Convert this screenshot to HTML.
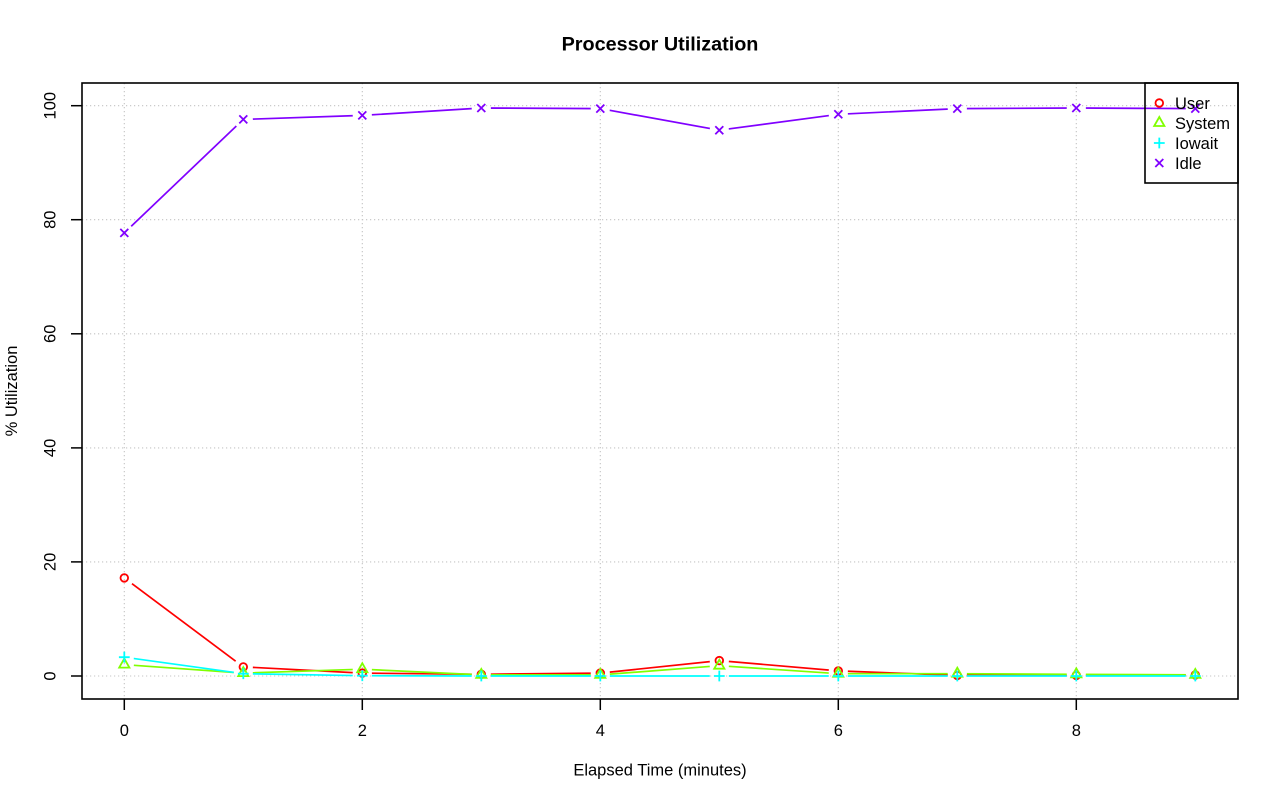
<!DOCTYPE html>
<html><head><meta charset="utf-8"><style>
html,body{margin:0;padding:0;background:#fff;}
svg{display:block;}
text{font-family:"Liberation Sans",Arial,sans-serif;fill:#000;}
</style></head><body>
<svg width="1280" height="801" viewBox="0 0 1280 801" xmlns="http://www.w3.org/2000/svg">
<defs>
<mask id="mU" maskUnits="userSpaceOnUse" x="0" y="0" width="1280" height="801">
<rect x="0" y="0" width="1280" height="801" fill="#fff"/>
<g fill="#000">
<circle cx="124.3" cy="577.9" r="9.6"/><circle cx="243.3" cy="666.9" r="9.6"/><circle cx="362.3" cy="673.1" r="9.6"/><circle cx="481.3" cy="674.3" r="9.6"/><circle cx="600.3" cy="673.1" r="9.6"/><circle cx="719.3" cy="660.6" r="9.6"/><circle cx="838.3" cy="670.9" r="9.6"/><circle cx="957.3" cy="675.4" r="9.6"/><circle cx="1076.3" cy="675.4" r="9.6"/><circle cx="1195.3" cy="674.9" r="9.6"/>
</g></mask>
<mask id="mS" maskUnits="userSpaceOnUse" x="0" y="0" width="1280" height="801">
<rect x="0" y="0" width="1280" height="801" fill="#fff"/>
<g fill="#000">
<circle cx="124.3" cy="664.6" r="9.6"/><circle cx="243.3" cy="673.1" r="9.6"/><circle cx="362.3" cy="669.2" r="9.6"/><circle cx="481.3" cy="674.9" r="9.6"/><circle cx="600.3" cy="674.9" r="9.6"/><circle cx="719.3" cy="665.7" r="9.6"/><circle cx="838.3" cy="673.7" r="9.6"/><circle cx="957.3" cy="673.7" r="9.6"/><circle cx="1076.3" cy="674.3" r="9.6"/><circle cx="1195.3" cy="674.9" r="9.6"/>
</g></mask>
<mask id="mI" maskUnits="userSpaceOnUse" x="0" y="0" width="1280" height="801">
<rect x="0" y="0" width="1280" height="801" fill="#fff"/>
<g fill="#000">
<circle cx="124.3" cy="657.2" r="9.6"/><circle cx="243.3" cy="673.7" r="9.6"/><circle cx="362.3" cy="675.7" r="9.6"/><circle cx="481.3" cy="676" r="9.6"/><circle cx="600.3" cy="676" r="9.6"/><circle cx="719.3" cy="676" r="9.6"/><circle cx="838.3" cy="676" r="9.6"/><circle cx="957.3" cy="676" r="9.6"/><circle cx="1076.3" cy="676" r="9.6"/><circle cx="1195.3" cy="676" r="9.6"/>
</g></mask>
<mask id="mD" maskUnits="userSpaceOnUse" x="0" y="0" width="1280" height="801">
<rect x="0" y="0" width="1280" height="801" fill="#fff"/>
<g fill="#000">
<circle cx="124.3" cy="232.9" r="9.6"/><circle cx="243.3" cy="119.4" r="9.6"/><circle cx="362.3" cy="115.4" r="9.6"/><circle cx="481.3" cy="108.0" r="9.6"/><circle cx="600.3" cy="108.6" r="9.6"/><circle cx="719.3" cy="130.2" r="9.6"/><circle cx="838.3" cy="114.3" r="9.6"/><circle cx="957.3" cy="108.6" r="9.6"/><circle cx="1076.3" cy="108.0" r="9.6"/><circle cx="1195.3" cy="108.6" r="9.6"/>
</g></mask>
</defs>

<!-- title -->
<text x="660" y="50.5" font-size="19.8" font-weight="bold" text-anchor="middle">Processor Utilization</text>

<!-- grid -->
<g stroke="#c4c4c4" stroke-width="1.1" stroke-dasharray="1.2 2.8" fill="none">
<line x1="124.3" y1="83" x2="124.3" y2="699"/>
<line x1="362.3" y1="83" x2="362.3" y2="699"/>
<line x1="600.3" y1="83" x2="600.3" y2="699"/>
<line x1="838.3" y1="83" x2="838.3" y2="699"/>
<line x1="1076.3" y1="83" x2="1076.3" y2="699"/>
<line x1="82" y1="676" x2="1238" y2="676"/>
<line x1="82" y1="561.9" x2="1238" y2="561.9"/>
<line x1="82" y1="447.9" x2="1238" y2="447.9"/>
<line x1="82" y1="333.8" x2="1238" y2="333.8"/>
<line x1="82" y1="219.7" x2="1238" y2="219.7"/>
<line x1="82" y1="105.7" x2="1238" y2="105.7"/>
</g>

<!-- series lines -->
<g fill="none" stroke-width="1.7">
<polyline mask="url(#mU)" stroke="#FF0000" points="124.3,577.9 243.3,666.9 362.3,673.1 481.3,674.3 600.3,673.1 719.3,660.6 838.3,670.9 957.3,675.4 1076.3,675.4 1195.3,674.9"/>
<polyline mask="url(#mS)" stroke="#80FF00" points="124.3,664.6 243.3,673.1 362.3,669.2 481.3,674.9 600.3,674.9 719.3,665.7 838.3,673.7 957.3,673.7 1076.3,674.3 1195.3,674.9"/>
<polyline mask="url(#mI)" stroke="#00FFFF" points="124.3,657.2 243.3,673.7 362.3,675.7 481.3,676 600.3,676 719.3,676 838.3,676 957.3,676 1076.3,676 1195.3,676"/>
<polyline mask="url(#mD)" stroke="#8000FF" points="124.3,232.9 243.3,119.4 362.3,115.4 481.3,108.0 600.3,108.6 719.3,130.2 838.3,114.3 957.3,108.6 1076.3,108.0 1195.3,108.6"/>
</g>

<!-- markers: user circles -->
<g fill="none" stroke="#FF0000" stroke-width="1.8">
<circle cx="124.3" cy="577.9" r="3.8"/><circle cx="243.3" cy="666.9" r="3.8"/><circle cx="362.3" cy="673.1" r="3.8"/><circle cx="481.3" cy="674.3" r="3.8"/><circle cx="600.3" cy="673.1" r="3.8"/><circle cx="719.3" cy="660.6" r="3.8"/><circle cx="838.3" cy="670.9" r="3.8"/><circle cx="957.3" cy="675.4" r="3.8"/><circle cx="1076.3" cy="675.4" r="3.8"/><circle cx="1195.3" cy="674.9" r="3.8"/>
</g>
<!-- system triangles -->
<g fill="none" stroke="#80FF00" stroke-width="1.8" stroke-linejoin="miter">
<polygon points="124.3,658.6 129.4,667.6 119.2,667.6"/>
<polygon points="243.3,667.1 248.4,676.1 238.2,676.1"/>
<polygon points="362.3,663.2 367.4,672.2 357.2,672.2"/>
<polygon points="481.3,668.9 486.4,677.9 476.2,677.9"/>
<polygon points="600.3,668.9 605.4,677.9 595.2,677.9"/>
<polygon points="719.3,659.7 724.4,668.7 714.2,668.7"/>
<polygon points="838.3,667.7 843.4,676.7 833.2,676.7"/>
<polygon points="957.3,667.7 962.4,676.7 952.2,676.7"/>
<polygon points="1076.3,668.3 1081.4,677.3 1071.2,677.3"/>
<polygon points="1195.3,668.9 1200.4,677.9 1190.2,677.9"/>
</g>
<!-- iowait plus -->
<g fill="none" stroke="#00FFFF" stroke-width="1.8">
<path d="M118.9 657.2h10.8M124.3 651.8v10.8
M237.9 673.7h10.8M243.3 668.3v10.8
M356.9 675.7h10.8M362.3 670.3v10.8
M475.9 676h10.8M481.3 670.6v10.8
M594.9 676h10.8M600.3 670.6v10.8
M713.9 676h10.8M719.3 670.6v10.8
M832.9 676h10.8M838.3 670.6v10.8
M951.9 676h10.8M957.3 670.6v10.8
M1070.9 676h10.8M1076.3 670.6v10.8
M1189.9 676h10.8M1195.3 670.6v10.8"/>
</g>
<!-- idle x -->
<g fill="none" stroke="#8000FF" stroke-width="1.8">
<path d="M120.3 228.9l8 8M120.3 236.9l8 -8
M239.3 115.4l8 8M239.3 123.4l8 -8
M358.3 111.4l8 8M358.3 119.4l8 -8
M477.3 104.0l8 8M477.3 112.0l8 -8
M596.3 104.6l8 8M596.3 112.6l8 -8
M715.3 126.2l8 8M715.3 134.2l8 -8
M834.3 110.3l8 8M834.3 118.3l8 -8
M953.3 104.6l8 8M953.3 112.6l8 -8
M1072.3 104.0l8 8M1072.3 112.0l8 -8
M1191.3 104.6l8 8M1191.3 112.6l8 -8"/>
</g>

<!-- plot box -->
<rect x="82" y="83" width="1156" height="616" fill="none" stroke="#000" stroke-width="1.6"/>

<!-- ticks -->
<g stroke="#000" stroke-width="1.5">
<line x1="124.3" y1="699" x2="124.3" y2="710"/>
<line x1="362.3" y1="699" x2="362.3" y2="710"/>
<line x1="600.3" y1="699" x2="600.3" y2="710"/>
<line x1="838.3" y1="699" x2="838.3" y2="710"/>
<line x1="1076.3" y1="699" x2="1076.3" y2="710"/>
<line x1="71" y1="676" x2="82" y2="676"/>
<line x1="71" y1="561.9" x2="82" y2="561.9"/>
<line x1="71" y1="447.9" x2="82" y2="447.9"/>
<line x1="71" y1="333.8" x2="82" y2="333.8"/>
<line x1="71" y1="219.7" x2="82" y2="219.7"/>
<line x1="71" y1="105.7" x2="82" y2="105.7"/>
</g>

<!-- x tick labels -->
<g font-size="16.5" text-anchor="middle">
<text x="124.3" y="736">0</text>
<text x="362.3" y="736">2</text>
<text x="600.3" y="736">4</text>
<text x="838.3" y="736">6</text>
<text x="1076.3" y="736">8</text>
</g>
<!-- y tick labels (rotated) -->
<g font-size="16.5" text-anchor="middle">
<text transform="translate(55.3,676) rotate(-90)">0</text>
<text transform="translate(55.3,561.9) rotate(-90)">20</text>
<text transform="translate(55.3,447.9) rotate(-90)">40</text>
<text transform="translate(55.3,333.8) rotate(-90)">60</text>
<text transform="translate(55.3,219.7) rotate(-90)">80</text>
<text transform="translate(55.3,105.7) rotate(-90)">100</text>
</g>

<!-- axis labels -->
<text x="660" y="775.5" font-size="16.5" text-anchor="middle">Elapsed Time (minutes)</text>
<text transform="translate(17,391) rotate(-90)" font-size="16.5" text-anchor="middle">% Utilization</text>

<!-- legend -->
<rect x="1145" y="83" width="93" height="100" fill="none" stroke="#000" stroke-width="1.6"/>
<circle cx="1159.3" cy="103" r="3.8" fill="none" stroke="#FF0000" stroke-width="1.8"/>
<polygon points="1159.3,117.0 1164.4,126.0 1154.2,126.0" fill="none" stroke="#80FF00" stroke-width="1.8"/>
<path d="M1153.9 143h10.8M1159.3 137.6v10.8" stroke="#00FFFF" stroke-width="1.8" fill="none"/>
<path d="M1155.3 159l8 8M1155.3 167l8 -8" stroke="#8000FF" stroke-width="1.8" fill="none"/>
<g font-size="16.5">
<text x="1175" y="109">User</text>
<text x="1175" y="129">System</text>
<text x="1175" y="149">Iowait</text>
<text x="1175" y="169">Idle</text>
</g>
</svg>
</body></html>
